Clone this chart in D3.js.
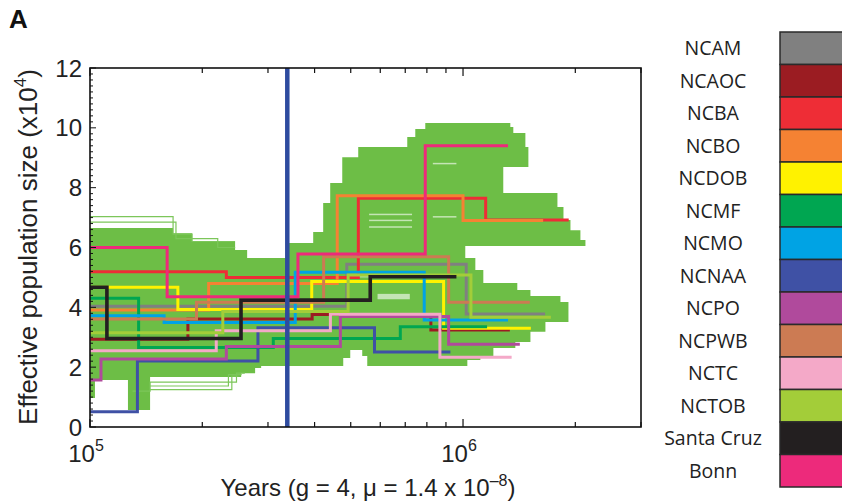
<!DOCTYPE html>
<html><head><meta charset="utf-8">
<script src="https://cdn.jsdelivr.net/npm/d3@7"></script>
<style>body{margin:0;background:#fff}svg{display:block}</style>
</head><body>
<svg id="c" width="842" height="503"></svg>
<script>
// ---------------- DATA ----------------
const legendNames = ["NCAM","NCAOC","NCBA","NCBO","NCDOB","NCMF","NCMO","NCNAA","NCPO","NCPWB","NCTC","NCTOB","Santa Cruz","Bonn"];
const legendColors = ["#808080","#9b1c22","#ee2d36","#f58233","#fff200","#00a651","#00a3e4","#3f51a5","#b04a9c","#cc7b53","#f4a9c8","#a3cd39","#231f20","#ed2a7b"];
const yTickValues = [0,2,4,6,8,10,12];
const xMajorTicks = [1e5,1e6];
const xMinorTicks = [2e5,3e5,4e5,5e5,6e5,7e5,8e5,9e5,2e6,3e6];
const divergenceYear = 3.38e5;

// step series: breakpoint years and Ne (x10^4) per interval
const NCAM_years  = [1e5, 4.88e5, 1.02e6, 1.66e6];
const NCAM_ne     = [4.04, 5.44, 3.78];
const NCAOC_years = [1e5, 1.83e5, 3.94e5, 8.2e5, 1.335e6];
const NCAOC_ne    = [2.93, 3.61, 3.76, 3.24];
const NCBA_years  = [1e5, 2.32e5, 5.24e5, 1.15e6, 1.92e6];
const NCBA_ne     = [5.19, 5.0, 7.65, 6.92];
const NCBO_years  = [1e5, 2.08e5, 4.6e5, 1.0e6, 1.64e6];
const NCBO_ne     = [3.91, 4.8, 7.73, 6.9];
const NCDOB_years = [1e5, 1.72e5, 3.93e5, 8.87e5, 1.52e6];
const NCDOB_ne    = [4.67, 3.93, 4.86, 3.30];
const NCMF_years  = [1e5, 1.35e5, 3.1e5, 6.79e5, 1.16e6];
const NCMF_ne     = [4.30, 2.66, 2.96, 3.35];
const NCMO_years  = [1e5, 1.58e5, 3.55e5, 7.87e5, 1.32e6];
const NCMO_ne     = [3.72, 3.49, 5.17, 3.58];
const NCNAA_years = [1e5, 1.34e5, 2.82e5, 5.79e5, 9.25e5];
const NCNAA_ne    = [0.51, 2.21, 3.32, 2.51];
const NCPO_years  = [1e5, 1.07e5, 2.32e5, 4.69e5, 9.15e5, 1.42e6];
const NCPO_ne     = [1.57, 2.27, 2.69, 3.69, 2.77];
const NCPWB_years = [1e5, 1.93e5, 4.23e5, 9.15e5, 1.51e6];
const NCPWB_ne    = [3.61, 4.17, 5.69, 4.17];
const NCTC_years  = [1e5, 2.18e5, 4.41e5, 8.67e5, 1.35e6];
const NCTC_ne     = [2.55, 3.22, 3.77, 2.33];
const NCTOB_years = [1e5, 2.27e5, 4.92e5, 1.05e6, 1.72e6];
const NCTOB_ne    = [3.15, 3.86, 5.08, 3.67];
const SantaCruz_years = [1e5, 1.11e5, 2.54e5, 5.64e5, 9.6e5];
const SantaCruz_ne    = [4.67, 2.96, 4.24, 5.02];
const Bonn_years  = [1e5, 1.61e5, 3.61e5, 7.92e5, 1.32e6];
const Bonn_ne     = [6.0, 4.35, 5.78, 9.4];

// outer envelope of the bootstrap replicates (year, Ne)
const bootstrapEnvelope = [
 [1e5,6.65],[1.67e5,6.65],[1.67e5,6.48],[1.878e5,6.48],[1.878e5,6.18],[2.449e5,6.18],[2.449e5,5.92],
 [2.638e5,5.92],[2.638e5,5.65],[3.378e5,5.65],[3.378e5,6.15],[3.966e5,6.15],[3.966e5,6.52],[4.218e5,6.52],
 [4.218e5,7.49],[4.405e5,7.49],[4.405e5,8.16],[4.745e5,8.16],[4.745e5,9.02],[5.237e5,9.02],[5.237e5,9.36],
 [7.088e5,9.36],[7.088e5,9.69],[7.448e5,9.69],[7.448e5,9.96],[7.922e5,9.96],[7.922e5,10.16],[1.339e6,10.16],
 [1.339e6,10.03],[1.364e6,10.03],[1.364e6,9.83],[1.4695e6,9.83],[1.4695e6,9.36],[1.497e6,9.36],[1.497e6,8.69],
 [1.282e6,8.69],[1.282e6,7.82],[1.791e6,7.82],[1.791e6,7.35],[1.859e6,7.35],[1.859e6,6.92],[1.941e6,6.92],
 [1.941e6,6.58],[2.064e6,6.58],[2.064e6,6.25],[2.129e6,6.25],[2.129e6,6.05],[1.014e6,6.05],
 [1.014e6,5.65],[1.079e6,5.65],[1.079e6,5.25],[1.1335e6,5.25],[1.1335e6,4.81],[1.398e6,4.81],[1.398e6,4.58],
 [1.516e6,4.58],[1.516e6,4.38],[1.8245e6,4.38],[1.8245e6,4.18],[1.917e6,4.18],[1.917e6,3.51],[1.663e6,3.51],
 [1.663e6,3.18],[1.516e6,3.18],[1.516e6,2.84],[1.381e6,2.84],[1.381e6,2.64],[1.206e6,2.64],[1.206e6,2.37],
 [1.113e6,2.37],[1.113e6,2.24],[1.027e6,2.24],[1.027e6,2.04],
 [5.537e5,2.04],[5.537e5,2.37],[5.368e5,2.37],[5.368e5,2.57],[4.985e5,2.57],[4.985e5,2.31],[4.774e5,2.31],
 [4.774e5,2.04],[2.876e5,2.04],[2.876e5,1.97],[2.771e5,1.97],[2.771e5,1.80],[2.542e5,1.80],[2.542e5,1.67],
 [1.449e5,1.67],[1.449e5,0.57],[1.264e5,0.57],[1.264e5,1.57],[1.031e5,1.57],[1.031e5,0.97],[1e5,0.97]
];
// light gaps inside the bootstrap cloud: [year0, year1, ne0, ne1]
const bootstrapGaps = [
 [5.9e5,7.2e5,4.27,4.45],[5.6e5,7.3e5,7.08,7.13],[5.6e5,7.3e5,6.88,6.93],[5.6e5,7.3e5,6.66,6.71],
 [8.3e5,9.6e5,8.78,8.83],[8.3e5,9.6e5,7.0,7.05],[5.0e5,6.0e5,5.0,5.04]
];
// individual edge replicates
const edge1_years = [1e5,1.67e5,1.878e5,2.449e5]; const edge1_ne = [7.03,6.45,6.2];
const edge2_years = [1e5,1.70e5,2.2e5,2.45e5];    const edge2_ne = [6.85,6.3,6.0];
const edge3_years = [1.3e5,1.449e5,2.47e5,2.6e5]; const edge3_ne = [1.2,1.50,1.8];
const edge4_years = [1.449e5,2.35e5,2.55e5];      const edge4_ne = [1.37,1.75];
const edge5_years = [1.449e5,2.4e5,2.5e5];        const edge5_ne = [1.25,1.7];

// ---------------- CHART ----------------
const series = [
 [NCAM_years,NCAM_ne],[NCAOC_years,NCAOC_ne],[NCBA_years,NCBA_ne],[NCBO_years,NCBO_ne],
 [NCDOB_years,NCDOB_ne],[NCMF_years,NCMF_ne],[NCMO_years,NCMO_ne],[NCNAA_years,NCNAA_ne],
 [NCPO_years,NCPO_ne],[NCPWB_years,NCPWB_ne],[NCTC_years,NCTC_ne],[NCTOB_years,NCTOB_ne],
 [SantaCruz_years,SantaCruz_ne],[Bonn_years,Bonn_ne]
].map((s,i)=>({name:legendNames[i],color:legendColors[i],years:s[0],ne:s[1]}));
const edges = [[edge1_years,edge1_ne],[edge2_years,edge2_ne],[edge3_years,edge3_ne],[edge4_years,edge4_ne],
 [edge5_years,edge5_ne]];

const m={l:90,r:641,t:68,b:427};
const x=d3.scaleLog().domain([1e5,3e6]).range([m.l,m.r]);
const y=d3.scaleLinear().domain([0,12]).range([m.b,m.t]);
const svg=d3.select("#c");
const font="'Liberation Sans', Arial, sans-serif";

svg.append("defs").append("clipPath").attr("id","clip").append("rect")
  .attr("x",m.l).attr("y",m.t).attr("width",m.r-m.l).attr("height",m.b-m.t);
const g=svg.append("g").attr("clip-path","url(#clip)");

const poly=d3.line().x(d=>x(d[0])).y(d=>y(d[1]));
const stepLine=d3.line().x(d=>x(d[0])).y(d=>y(d[1])).curve(d3.curveStepAfter);
function stepPts(xs,ys){const p=ys.map((v,i)=>[xs[i],v]);p.push([xs[xs.length-1],ys[ys.length-1]]);return p;}

g.append("path").attr("d",poly(bootstrapEnvelope)+"Z").attr("fill","#6dbe46");
g.selectAll(".gap").data(bootstrapGaps).join("rect")
  .attr("x",d=>x(d[0])).attr("width",d=>x(d[1])-x(d[0]))
  .attr("y",d=>y(d[3])).attr("height",d=>y(d[2])-y(d[3])).attr("fill","#ffffff").attr("opacity",0.6);
g.selectAll(".edge").data(edges).join("path")
  .attr("d",d=>stepLine(stepPts(d[0],d[1]))).attr("fill","none").attr("stroke","#7cc65a").attr("stroke-width",1.2);

g.selectAll(".ser").data(series).join("path")
  .attr("d",d=>stepLine(stepPts(d.years,d.ne))).attr("fill","none")
  .attr("stroke",d=>d.color).attr("stroke-width",d=>d.name==="Santa Cruz"?3.6:3);

// divergence line
g.append("line").attr("x1",x(divergenceYear)).attr("x2",x(divergenceYear))
  .attr("y1",y(12)).attr("y2",y(0)).attr("stroke","#2e4b9f").attr("stroke-width",4.5);

// frame
svg.append("rect").attr("x",m.l).attr("y",m.t).attr("width",m.r-m.l).attr("height",m.b-m.t)
  .attr("fill","none").attr("stroke","#111").attr("stroke-width",1.6);

// y ticks
const yMinor=d3.range(0,12.001,0.2);
svg.selectAll(".ymin").data(yMinor).join("line")
  .attr("x1",m.l).attr("x2",d=>m.l+(Math.abs(d/2-Math.round(d/2))<1e-6?6:3))
  .attr("y1",d=>y(d)).attr("y2",d=>y(d)).attr("stroke","#111").attr("stroke-width",1);
svg.selectAll(".ylab").data(yTickValues).join("text")
  .attr("x",82).attr("y",d=>y(d)).attr("dy","0.36em").attr("text-anchor","end")
  .attr("font-family",font).attr("font-size",24).attr("fill","#222").text(d=>d);

// x ticks (top and bottom, inward)
[[m.b,-1],[m.t,1]].forEach(([yy,dir])=>{
  svg.selectAll(null).data(xMinorTicks).join("line")
    .attr("x1",d=>x(d)).attr("x2",d=>x(d)).attr("y1",yy).attr("y2",yy+dir*5)
    .attr("stroke","#111").attr("stroke-width",1.2);
  svg.selectAll(null).data(xMajorTicks).join("line")
    .attr("x1",d=>x(d)).attr("x2",d=>x(d)).attr("y1",yy).attr("y2",yy+dir*8)
    .attr("stroke","#111").attr("stroke-width",1.2);
});
const xl=svg.selectAll(".xlab").data(xMajorTicks).join("text")
  .attr("x",d=>x(d)-4).attr("y",462).attr("text-anchor","middle")
  .attr("font-family",font).attr("font-size",24).attr("fill","#222");
xl.append("tspan").text("10");
xl.append("tspan").attr("dy",-11).attr("font-size",16).text(d=>Math.round(Math.log10(d)));

// axis titles
const yt=svg.append("text").attr("transform","translate(37,247) rotate(-90)").attr("text-anchor","middle")
  .attr("font-family",font).attr("font-size",26).attr("fill","#222");
yt.append("tspan").text("Effective population size (x10");
yt.append("tspan").attr("dy",-11).attr("font-size",17).text("4");
yt.append("tspan").attr("dy",11).text(")");
const xt=svg.append("text").attr("x",368).attr("y",496).attr("text-anchor","middle")
  .attr("font-family",font).attr("font-size",24).attr("fill","#222");
xt.append("tspan").text("Years (g = 4, \u03bc = 1.4 x 10");
xt.append("tspan").attr("dy",-10).attr("font-size",16).text("\u20138");
xt.append("tspan").attr("dy",10).text(")");

svg.append("text").attr("x",9).attr("y",28).attr("font-family",font).attr("font-weight","bold")
  .attr("font-size",26).attr("fill","#111").text("A");

// legend
const lg=svg.append("g");
lg.selectAll("rect").data(series).join("rect")
  .attr("x",780).attr("y",(d,i)=>32+i*32.5).attr("width",80).attr("height",32.5)
  .attr("fill",d=>d.color).attr("stroke","#2a2a2a").attr("stroke-width",1.5);
lg.selectAll("text").data(series).join("text")
  .attr("x",713).attr("y",(d,i)=>32+i*32.5+16.25).attr("dy","0.36em").attr("text-anchor","middle")
  .attr("font-family","'Open Sans', sans-serif").attr("font-size",19.5).attr("fill","#222").text(d=>d.name);
</script>
</body></html>
